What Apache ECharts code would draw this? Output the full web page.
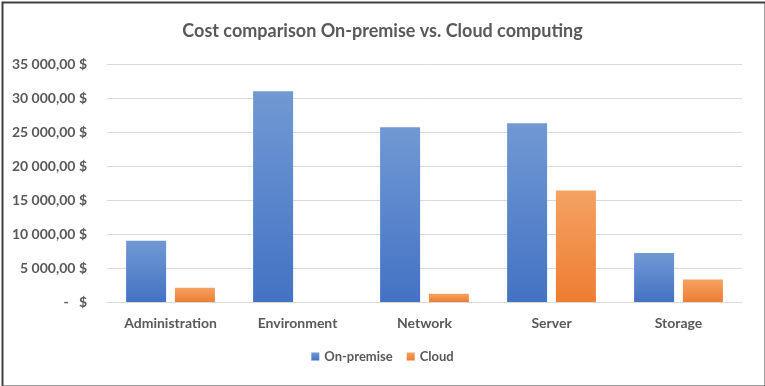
<!DOCTYPE html>
<html><head><meta charset="utf-8">
<script src="https://cdn.jsdelivr.net/npm/echarts@6/dist/echarts.min.js"></script>
<style>html,body{margin:0;padding:0;background:#fff}#c{width:765px;height:386px}</style>
</head><body><div id="c"></div>
<script>
const categories = ["Administration", "Environment", "Network", "Server", "Storage"];
const onPremise = [9000, 31000, 25700, 26300, 7200];
const cloud = [2100, 0, 1200, 16400, 3300];
const seriesNames = ["On-premise", "Cloud"];
const titleText = "Cost comparison On-premise vs. Cloud computing";

function fmt(v) {
  if (v === 0) return "-   $";
  const s = Math.round(v).toString().replace(/\B(?=(\d{3})+(?!\d))/g, " ");
  return s + ",00 $";
}
const font = "Lato, 'Open Sans', sans-serif";
const chart = echarts.init(document.getElementById('c'));
chart.setOption({
  animation: false,
  title: { text: titleText, left: 'center', top: 17,
    textStyle: { fontFamily: font, fontSize: 18, fontWeight: 'bold', color: '#595959' } },
  legend: { bottom: 18, left: 'center', itemWidth: 8, itemHeight: 8, itemGap: 14,
    icon: 'rect',
    textStyle: { fontFamily: font, fontSize: 13, fontWeight: 'bold', color: '#595959' } },
  grid: { left: 107, right: 23, top: 64, bottom: 84 },
  xAxis: { type: 'category', data: categories,
    axisLine: { lineStyle: { color: '#d9d9d9' } }, axisTick: { show: false },
    axisLabel: { fontFamily: font, fontSize: 14, fontWeight: 'bold', color: '#595959', margin: 14 } },
  yAxis: { type: 'value', min: 0, max: 35000, interval: 5000,
    axisLine: { show: false }, axisTick: { show: false },
    splitLine: { lineStyle: { color: '#d9d9d9' } },
    axisLabel: { fontFamily: font, fontSize: 14, fontWeight: 'bold', color: '#595959', margin: 20, formatter: fmt } },
  series: [
    { name: seriesNames[0], type: 'bar', data: onPremise, barWidth: 40, barGap: '22%',
      itemStyle: { color: new echarts.graphic.LinearGradient(0,0,0,1,[{offset:0,color:'#7099d3'},{offset:1,color:'#4472c4'}]) } },
    { name: seriesNames[1], type: 'bar', data: cloud, barWidth: 40,
      itemStyle: { color: new echarts.graphic.LinearGradient(0,0,0,1,[{offset:0,color:'#f5a263'},{offset:1,color:'#ed7d31'}]) } }
  ],
  graphic: [{ type: 'rect', left: 0, top: 0, shape: { x: 1, y: 1, width: 763, height: 384 },
    style: { fill: 'none', stroke: '#404040', lineWidth: 2 }, silent: true }]
});
</script></body></html>
